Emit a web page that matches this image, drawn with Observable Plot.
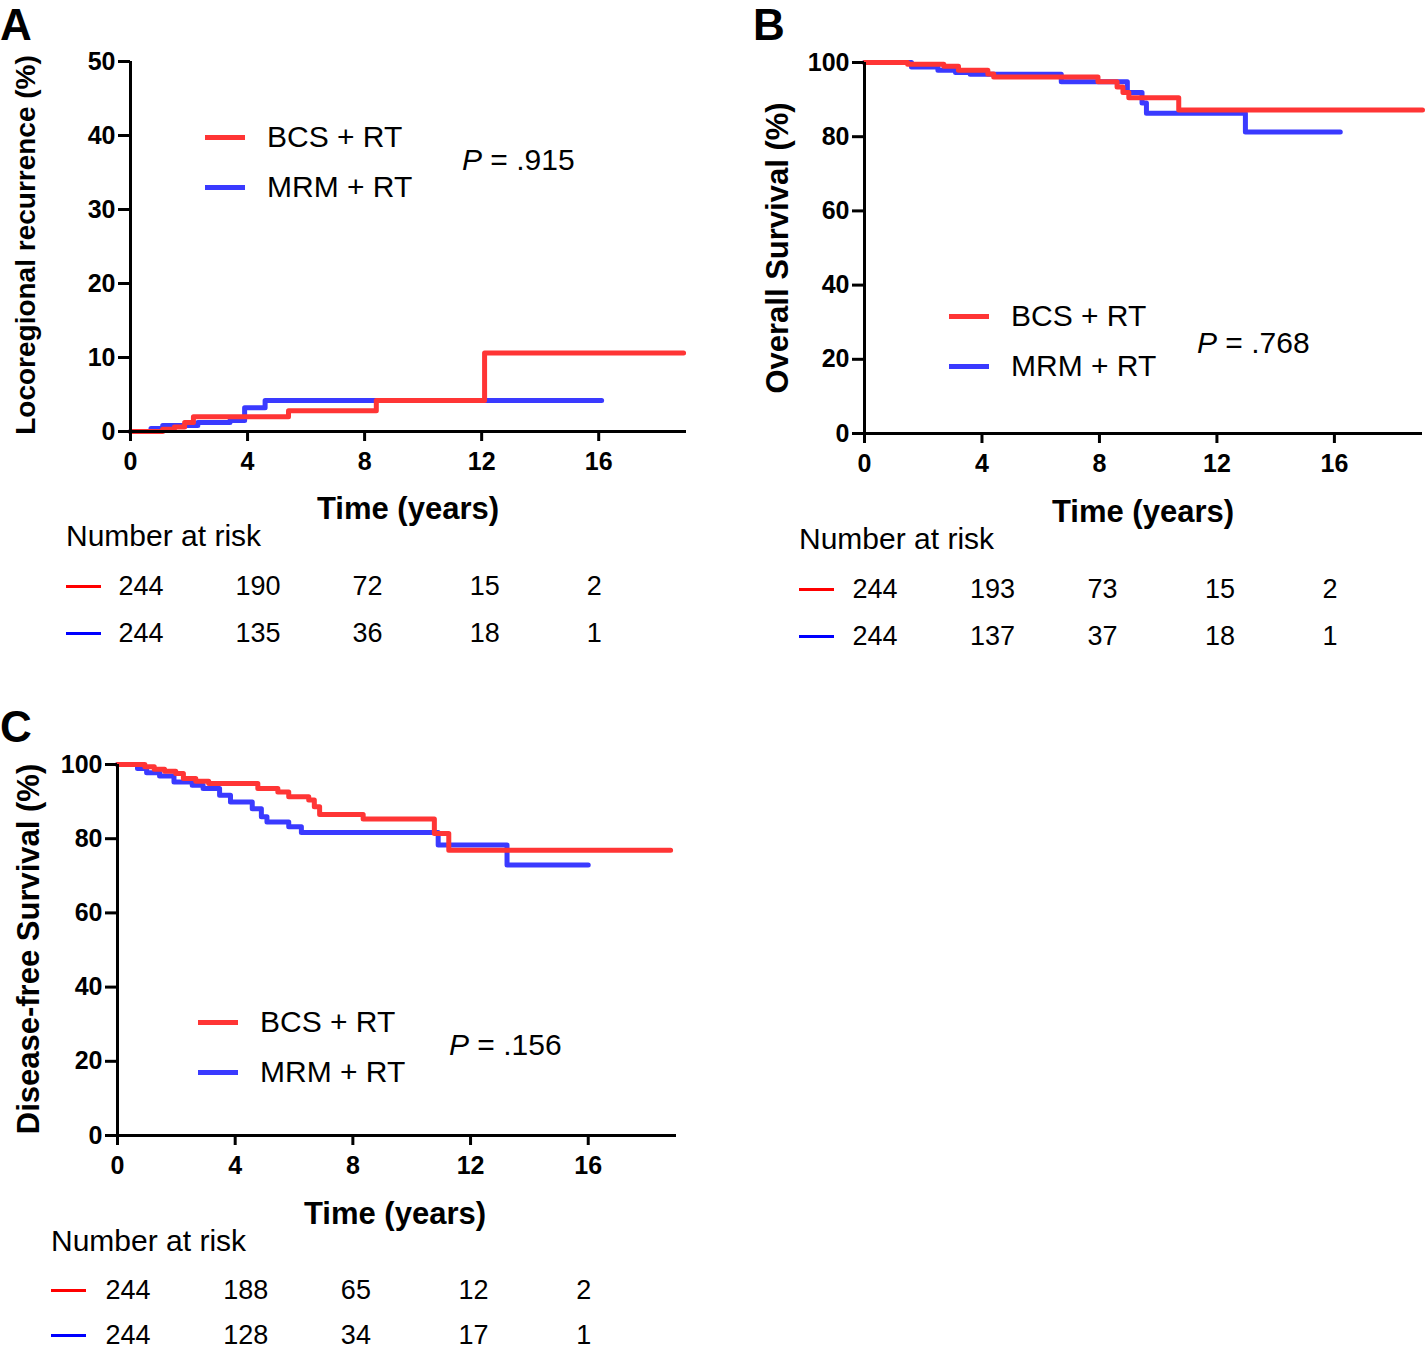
<!DOCTYPE html>
<html><head><meta charset="utf-8">
<script src="https://cdn.jsdelivr.net/npm/d3@7"></script>
<script src="https://cdn.jsdelivr.net/npm/@observablehq/plot@0.6"></script>
<style>
html,body{margin:0;padding:0;background:#fff;overflow:hidden;}
body{font-family:"Liberation Sans",Arial,sans-serif;color:#000;}
#root{position:relative;width:1425px;height:1348px;}
.t{position:absolute;white-space:nowrap;line-height:1;}
</style></head><body><div id="root"></div>
<script>
// ---- shared ----
const timeTicks = [0, 4, 8, 12, 16];
const groups = ["BCS + RT", "MRM + RT"];
const curveColors = ["#ff3535", "#3a3aff"];
const swatchColors = ["#ff0000", "#0000ff"];

// ---- Panel A: Locoregional recurrence ----
const aRedT = [0, 1.1, 1.5, 1.85, 2.15, 5.4, 8.4, 12.1, 18.9];
const aRedV = [0, 0.3, 0.6, 1.2, 2.0, 2.8, 4.2, 10.6, 10.6];
const aBlueT = [0, 0.7, 1.1, 2.3, 3.4, 3.9, 4.6, 16.1];
const aBlueV = [0, 0.4, 0.8, 1.2, 1.5, 3.2, 4.2, 4.2];
const aYTicks = [0, 10, 20, 30, 40, 50];
const aRiskRed = [244, 190, 72, 15, 2];
const aRiskBlue = [244, 135, 36, 18, 1];
const aP = ".915";

// ---- Panel B: Overall survival ----
const bRedT = [0, 1.47, 2.7, 3.2, 4.2, 4.4, 7.95, 8.6, 8.8, 9.0, 10.7, 19];
const bRedV = [100, 99.5, 99.0, 97.9, 96.9, 96.1, 94.8, 93.4, 91.9, 90.5, 87.2, 87.2];
const bBlueT = [0, 1.6, 2.5, 3.1, 3.6, 6.7, 8.95, 9.45, 9.6, 12.97, 16.2];
const bBlueV = [100, 98.8, 97.9, 97.3, 96.8, 94.8, 91.9, 89.1, 86.3, 81.3, 81.3];
const bYTicks = [0, 20, 40, 60, 80, 100];
const bRiskRed = [244, 193, 73, 15, 2];
const bRiskBlue = [244, 137, 37, 18, 1];
const bP = ".768";

// ---- Panel C: Disease-free survival ----
const cRedT = [0, 0.93, 1.25, 1.6, 1.98, 2.24, 2.66, 3.1, 4.77, 5.45, 5.82, 6.5, 6.69, 6.87, 8.35, 10.77, 11.26, 18.8];
const cRedV = [100, 99.4, 98.7, 98.2, 97.6, 96.2, 95.5, 94.9, 93.5, 92.6, 91.3, 90.4, 88.6, 86.5, 85.3, 81.4, 76.9, 76.9];
const cBlueT = [0, 0.68, 0.99, 1.43, 1.92, 2.54, 2.91, 3.47, 3.84, 4.58, 4.89, 5.08, 5.82, 6.25, 10.9, 13.24, 16.0];
const cBlueV = [100, 98.9, 97.8, 96.9, 95.3, 94.4, 93.5, 91.7, 89.9, 88.1, 85.9, 84.5, 83.2, 81.7, 78.3, 72.9, 72.9];
const cYTicks = [0, 20, 40, 60, 80, 100];
const cRiskRed = [244, 188, 65, 12, 2];
const cRiskBlue = [244, 128, 34, 17, 1];
const cP = ".156";

const root = document.getElementById("root");
const FONT = "'Liberation Sans', Arial, sans-serif";

function text(str, left, cy, size, weight, extra) {
  const d = document.createElement("div");
  d.className = "t";
  d.innerHTML = str;
  d.style.left = left + "px";
  d.style.top = cy + "px";
  d.style.fontSize = size + "px";
  d.style.fontWeight = weight;
  d.style.transform = "translateY(-50%)";
  if (extra) Object.assign(d.style, extra);
  root.appendChild(d);
  return d;
}
function centered(str, cx, cy, size, weight, rotate) {
  const d = text(str, cx, cy, size, weight);
  d.style.transform = "translate(-50%,-50%)" + (rotate ? " rotate(-90deg)" : "");
  return d;
}
function swatch(x1, x2, cy, color, h) {
  const d = document.createElement("div");
  d.style.position = "absolute";
  d.style.left = x1 + "px";
  d.style.width = (x2 - x1) + "px";
  d.style.top = (cy - h / 2) + "px";
  d.style.height = h + "px";
  d.style.background = color;
  root.appendChild(d);
}
function placeSvg(el, left, top) {
  el.style.position = "absolute";
  el.style.left = left + "px";
  el.style.top = top + "px";
  root.appendChild(el);
}

function kmPlot(c) {
  const red = d3.zip(c.redT, c.redV).map(([t, v]) => ({t, v}));
  const blue = d3.zip(c.blueT, c.blueV).map(([t, v]) => ({t, v}));
  return Plot.plot({
    width: c.width, height: c.height,
    marginLeft: c.ml, marginRight: c.mr, marginTop: c.mt, marginBottom: c.mb,
    style: {fontFamily: FONT, background: "transparent", overflow: "visible", color: "#000"},
    x: {domain: [0, 19]},
    y: {domain: [0, c.yTicks[c.yTicks.length - 1]]},
    marks: [
      Plot.line(blue, {x: "t", y: "v", stroke: curveColors[1], strokeWidth: 5, curve: "step-after"}),
      Plot.line(red, {x: "t", y: "v", stroke: curveColors[0], strokeWidth: 5, curve: "step-after"}),
      Plot.ruleX([0], {strokeWidth: 3, stroke: "#000"}),
      Plot.ruleY([0], {strokeWidth: 3, stroke: "#000"}),
      Plot.axisX({ticks: timeTicks, tickSize: 10, tickPadding: 11, fontSize: 25, fontWeight: "bold", strokeWidth: 3, label: null}),
      Plot.axisY({ticks: c.yTicks, tickSize: 12, tickPadding: 3, fontSize: 25, fontWeight: "bold", strokeWidth: 3, label: null})
    ]
  });
}
function riskPlot(c) {
  const rows = [c.riskRed, c.riskBlue].flatMap((arr, i) => arr.map((n, j) => ({t: timeTicks[j], g: groups[i], n})));
  return Plot.plot({
    width: c.width, height: 75,
    marginLeft: c.ml, marginRight: c.mr, marginTop: 0, marginBottom: 0,
    style: {fontFamily: FONT, background: "transparent", overflow: "visible", color: "#000"},
    x: {domain: [0, 19], axis: null},
    y: {type: "point", domain: groups, range: [20, 20 + c.rowGap], padding: 0, axis: null},
    marks: [
      Plot.text(rows, {x: "t", y: "g", text: "n", textAnchor: "start", dx: -12, fontSize: 27, fill: "#000"})
    ]
  });
}

const panels = [
  {letter: "A", lx: 0, ly: 3, left: 0, top: 0, width: 700, ml: 130, mr: 14, mt: 61, mb: 50, height: 481,
   redT: aRedT, redV: aRedV, blueT: aBlueT, blueV: aBlueV, yTicks: aYTicks,
   riskRed: aRiskRed, riskBlue: aRiskBlue, P: aP,
   yLabel: "Locoregional recurrence (%)", yLabelSize: 28, yLabelX: 26, yLabelY: 245,
   xLabelX: 408, xLabelY: 508,
   legX: 205, legY: 137, pX: 462, pY: 160,
   nrX: 66, nrY: 536, riskTop: 566, rowGap: 47},
  {letter: "B", lx: 753, ly: 3, left: 734, top: 0, width: 691, ml: 130, mr: 3, mt: 62, mb: 50, height: 483,
   redT: bRedT, redV: bRedV, blueT: bBlueT, blueV: bBlueV, yTicks: bYTicks,
   riskRed: bRiskRed, riskBlue: bRiskBlue, P: bP,
   yLabel: "Overall Survival (%)", yLabelSize: 31, yLabelX: 777, yLabelY: 248,
   xLabelX: 1143, xLabelY: 511,
   legX: 949, legY: 316, pX: 1197, pY: 343,
   nrX: 799, nrY: 539, riskTop: 569, rowGap: 47},
  {letter: "C", lx: 0, ly: 705, left: 0, top: 703, width: 690, ml: 117, mr: 14, mt: 61, mb: 50, height: 482,
   redT: cRedT, redV: cRedV, blueT: cBlueT, blueV: cBlueV, yTicks: cYTicks,
   riskRed: cRiskRed, riskBlue: cRiskBlue, P: cP,
   yLabel: "Disease-free Survival (%)", yLabelSize: 31, yLabelX: 28, yLabelY: 949,
   xLabelX: 395, xLabelY: 1213,
   legX: 198, legY: 1022, pX: 449, pY: 1045,
   nrX: 51, nrY: 1241, riskTop: 1270, rowGap: 45}
];

for (const p of panels) {
  placeSvg(kmPlot(p), p.left, p.top);
  placeSvg(riskPlot(p), p.left, p.riskTop);
  text(p.letter, p.lx, p.ly, 44, "bold", {transform: "none"});
  centered(p.yLabel, p.yLabelX, p.yLabelY, p.yLabelSize, "bold", true);
  centered("Time (years)", p.xLabelX, p.xLabelY, 31, "bold", false);
  // legend
  groups.forEach((g, i) => {
    swatch(p.legX, p.legX + 40, p.legY + i * 50, curveColors[i], 5);
    text(g, p.legX + 62, p.legY + i * 50, 30, "normal");
  });
  text("<i>P</i> = " + p.P, p.pX, p.pY, 30, "normal");
  // number at risk
  text("Number at risk", p.nrX, p.nrY, 30, "normal");
  groups.forEach((g, i) => {
    swatch(p.nrX, p.nrX + 35, p.riskTop + 20 + i * p.rowGap, swatchColors[i], 3);
  });
}
</script>
</body></html>
